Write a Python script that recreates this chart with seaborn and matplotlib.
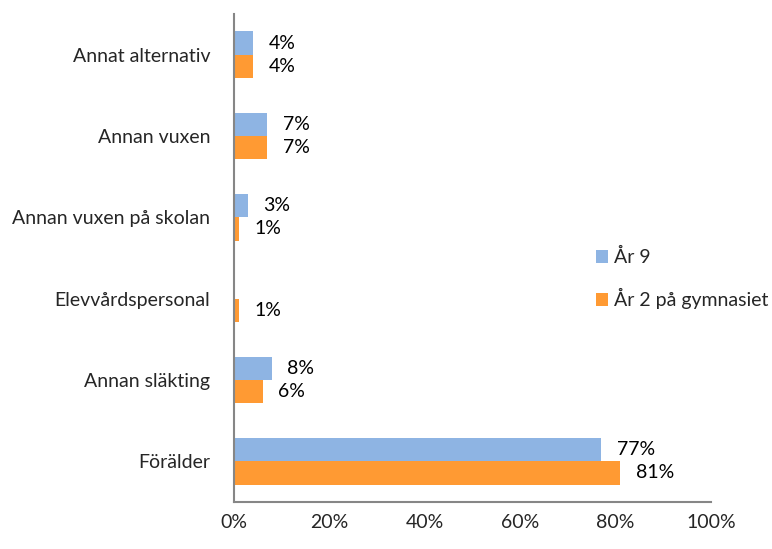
import matplotlib
matplotlib.use("Agg")
import matplotlib.pyplot as plt
import seaborn as sns
import pandas as pd
import numpy as np

categories = ["Annat alternativ", "Annan vuxen", "Annan vuxen på skolan",
              "Elevvårdspersonal", "Annan släkting", "Förälder"]
series_names = ["År 9", "År 2 på gymnasiet"]
ar9 = [4, 7, 3, 0, 8, 77]
ar2_gymn = [4, 7, 1, 1, 6, 81]
x_ticks = [0, 20, 40, 60, 80, 100]
x_tick_labels = ["0%", "20%", "40%", "60%", "80%", "100%"]

df = pd.DataFrame({
    "kategori": categories * 2,
    "grupp": [series_names[0]] * len(categories) + [series_names[1]] * len(categories),
    "andel": ar9 + ar2_gymn,
})

sns.set_style("white")
plt.rcParams["font.family"] = ["Lato", "DejaVu Sans"]
FS = 14
axis_grey = "#868686"

fig = plt.figure(figsize=(7.72, 5.49), dpi=100)
ax = fig.add_axes([234 / 772, 1 - 502 / 549, (711 - 234) / 772, (502 - 14) / 549])

palette = {series_names[0]: "#8EB4E3", series_names[1]: "#FF9A33"}
sns.barplot(data=df, y="kategori", x="andel", hue="grupp", order=categories,
            hue_order=series_names, palette=palette, orient="h", width=0.57,
            saturation=1, linewidth=0, ax=ax, legend=True)

# value labels to the right of each bar, skipping empty bars
for cont in ax.containers:
    labels = [f"{v:.0f}%" if v > 0 else "" for v in cont.datavalues]
    ax.bar_label(cont, labels=labels, padding=11, fontsize=FS, color="black")

ax.set_xlim(0, 100)
ax.set_ylim(5.5, -0.5)
ax.set_xticks(x_ticks)
ax.set_xticklabels(x_tick_labels, fontsize=FS)
ax.set_yticks(range(len(categories)))
ax.set_yticklabels(categories, fontsize=FS)
ax.set_yticks(np.arange(-0.5, len(categories), 1), minor=True)
ax.tick_params(axis="y", which="major", length=0, pad=17)
ax.tick_params(axis="y", which="minor", length=4, width=1.5, color=axis_grey, direction="out")
ax.tick_params(axis="x", which="major", length=4, width=1.5, color=axis_grey, direction="out", pad=5)
ax.set_xlabel("")
ax.set_ylabel("")

for side in ("top", "right"):
    ax.spines[side].set_visible(False)
for side in ("left", "bottom"):
    ax.spines[side].set_color(axis_grey)
    ax.spines[side].set_linewidth(1.5)

handles, labels = ax.get_legend_handles_labels()
ax.legend(handles, labels, loc="upper left", bbox_to_anchor=(588 / 772, 1 - 240 / 549),
          bbox_transform=fig.transFigure, frameon=False, fontsize=FS,
          handlelength=0.65, handleheight=0.65, handletextpad=0.3, labelspacing=1.15,
          borderaxespad=0)

fig.savefig("out.png", dpi=100)
